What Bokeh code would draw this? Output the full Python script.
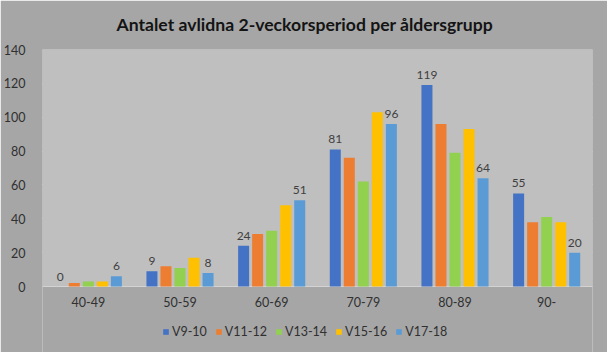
from bokeh.plotting import figure
from bokeh.models import ColumnDataSource, Range1d, FixedTicker, Legend, LegendItem, Title, BoxAnnotation
from bokeh.transform import dodge
from bokeh.core.properties import value
from bokeh.embed import file_html
from bokeh.resources import INLINE

categories = ["40-49", "50-59", "60-69", "70-79", "80-89", "90-"]
series_names = ["V9-10", "V11-12", "V13-14", "V15-16", "V17-18"]
v9_10 = [0, 9, 24, 81, 119, 55]
v11_12 = [2, 12, 31, 76, 96, 38]
v13_14 = [3, 11, 33, 62, 79, 41]
v15_16 = [3, 17, 48, 103, 93, 38]
v17_18 = [6, 8, 51, 96, 64, 20]
y_ticks = [0, 20, 40, 60, 80, 100, 120, 140]
colors = ["#4472C4", "#ED7D31", "#92D050", "#FFC000", "#5B9BD5"]

FONT = "Lato"
TXT = "#303030"
OUTER = "#a6a6a6"

data = dict(x=list(range(len(categories))), cat=categories,
            v0=v9_10, v1=v11_12, v2=v13_14, v3=v15_16, v4=v17_18)
data["zero"] = [0] * len(categories)
data["l0"] = [str(v) for v in v9_10]
data["l4"] = [str(v) for v in v17_18]
src = ColumnDataSource(data)

# frame spans from y=49 to the bottom of the canvas; the value 0 sits at y=286
TOP_PX, ZERO_PX, H = 49, 286, 352
y_max = 140
y_min = -y_max * (H - ZERO_PX) / (ZERO_PX - TOP_PX)

p = figure(width=607, height=H, output_backend="svg", toolbar_location=None,
           x_range=Range1d(-0.5, len(categories) - 0.5), y_range=Range1d(y_min, y_max))
p.min_border_left = 41
p.min_border_right = 15
p.min_border_top = TOP_PX
p.min_border_bottom = 0
p.background_fill_color = OUTER
p.border_fill_color = OUTER
p.outline_line_color = None

p.add_layout(BoxAnnotation(bottom=0, top=y_max, fill_color="#bfbfbf", fill_alpha=1,
                           line_color=None, level="underlay"))

p.title = Title(text="Antalet avlidna 2-veckorsperiod per åldersgrupp", align="left",
                vertical_align="top",
                text_font=FONT, text_font_size="17.6px", text_font_style="bold",
                text_color="#141414", offset=74, standoff=25)

step = 0.153
w = 0.12
renderers = []
for i, (name, c) in enumerate(zip(series_names, colors)):
    off = (i - 2) * step
    r = p.vbar(x=dodge("x", off, range=p.x_range), top="v%d" % i, width=w, source=src,
               fill_color=c, line_color=None)
    renderers.append(r)

for i, col in [(0, "l0"), (4, "l4")]:
    off = (i - 2) * step
    p.text(x=dodge("x", off, range=p.x_range), y="v%d" % i, text=col, source=src,
           text_align="center", text_baseline="bottom", y_offset=-6,
           text_font=value(FONT), text_font_size="12px", text_color="#404040")

# category labels under the plot area
p.text(x="x", y="zero", text="cat", source=src, text_align="center", text_baseline="top",
       y_offset=10, text_font=value(FONT), text_font_size="12.5px", text_color=TXT)

p.xaxis.visible = False
p.yaxis.ticker = FixedTicker(ticks=y_ticks)
p.yaxis.axis_line_color = None
p.yaxis.major_tick_line_color = None
p.yaxis.minor_tick_line_color = None
p.yaxis.major_label_text_font = FONT
p.yaxis.major_label_text_font_size = "12.5px"
p.yaxis.major_label_text_color = TXT
p.yaxis.major_label_standoff = 11

p.xgrid.grid_line_color = None
p.ygrid.grid_line_color = "#e6e6e6"
p.ygrid.grid_line_width = 1
p.ygrid.ticker = FixedTicker(ticks=y_ticks)

legend = Legend(items=[LegendItem(label=n, renderers=[r]) for n, r in zip(series_names, renderers)],
                orientation="horizontal", location=(120, 13),
                background_fill_alpha=0, border_line_color=None,
                label_text_font=FONT, label_text_font_size="12.5px", label_text_color=TXT,
                glyph_width=7, glyph_height=7, label_standoff=3, spacing=8,
                padding=0, margin=0)
p.add_layout(legend, "center")

open("out.html", "w").write(file_html(p, INLINE))
